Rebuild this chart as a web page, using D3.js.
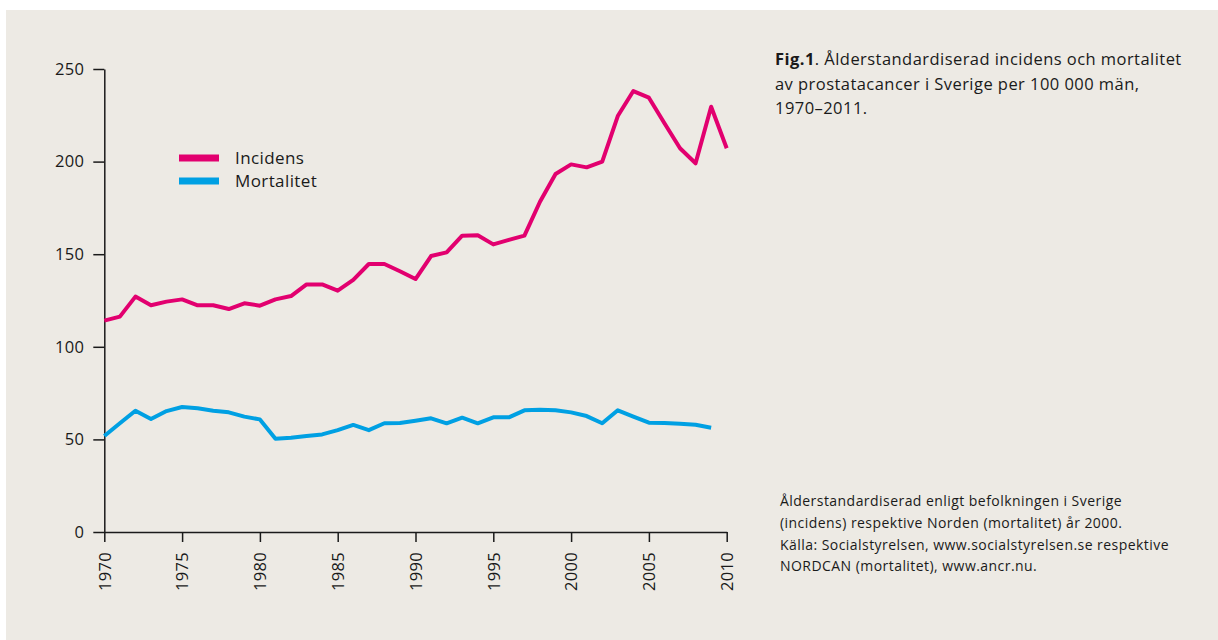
<!DOCTYPE html>
<html>
<head>
<meta charset="utf-8">
<script src="https://cdn.jsdelivr.net/npm/d3@7"></script>
<style>
  body { margin: 0; background: #ffffff; }
  svg text { font-family: "Open Sans", "Noto Sans", sans-serif; fill: #1a1a1a; }
</style>
</head>
<body>
<svg id="chart" width="1218" height="640"></svg>
<script>
// years 1970-2010 (incidens), 1970-2009 (mortalitet)
var years = d3.range(1970, 2011);
var incidens = [114.1, 116.3, 127.1, 122.4, 124.4, 125.6, 122.4, 122.4, 120.4, 123.5,
                122.2, 125.6, 127.4, 133.7, 133.7, 130.3, 136.1, 144.7, 144.7, 140.8,
                136.6, 149, 151, 160, 160.2, 155.3, 157.7, 160, 178.3, 193.3,
                198.5, 196.9, 200, 224.6, 238.1, 234.5, 220.7, 207.2, 199.1, 229.6,
                207.2];
var mortalitet = [51.8, 58.7, 65.5, 61, 65.3, 67.5, 66.8, 65.5, 64.6, 62.3,
                  60.8, 50.4, 50.9, 51.8, 52.7, 55, 57.8, 55, 58.7, 58.9,
                  60.1, 61.4, 58.7, 61.7, 58.7, 61.9, 61.9, 65.7, 66, 65.7,
                  64.6, 62.6, 58.7, 65.7, 62.3, 59, 58.9, 58.5, 57.9, 56.3];
var yTicks = [0, 50, 100, 150, 200, 250];
var xTicks = [1970, 1975, 1980, 1985, 1990, 1995, 2000, 2005, 2010];
var seriesNames = ["Incidens", "Mortalitet"];
var seriesColors = ["#e2006f", "#00a0e3"];

var titleLines = ["av prostatacancer i Sverige per 100 000 män,", "1970–2011."];
var noteLines = ["Ålderstandardiserad enligt befolkningen i Sverige",
                 "(incidens) respektive Norden (mortalitet) år 2000.",
                 "Källa: Socialstyrelsen, www.socialstyrelsen.se respektive",
                 "NORDCAN (mortalitet), www.ancr.nu."];

var svg = d3.select("#chart");

// beige panel
svg.append("rect")
    .attr("x", 6).attr("y", 10)
    .attr("width", 1212).attr("height", 630)
    .attr("fill", "#edeae4");

var x = d3.scaleLinear().domain([1970, 2010]).range([104.3, 726.7]);
var y = d3.scaleLinear().domain([0, 250]).range([532, 69]);

// axes
var yAxis = svg.append("g")
    .attr("transform", "translate(" + x(1970) + ",0)")
    .call(d3.axisLeft(y).tickValues(yTicks).tickSize(11).tickSizeOuter(0).tickPadding(9));
var xAxis = svg.append("g")
    .attr("transform", "translate(0," + y(0) + ")")
    .call(d3.axisBottom(x).tickValues(xTicks).tickFormat(d3.format("d")).tickSize(10).tickSizeOuter(0));

[yAxis, xAxis].forEach(function(ax) {
    ax.select(".domain").attr("stroke", "#1a1a1a").attr("stroke-width", 1.5);
    ax.selectAll(".tick line").attr("stroke", "#1a1a1a").attr("stroke-width", 1.5);
    ax.selectAll("text").attr("fill", "#1a1a1a").style("font-size", "16.5px")
        .style("letter-spacing", "0.3px")
        .style("font-family", "'Open Sans', sans-serif");
});
xAxis.selectAll(".tick text")
    .attr("transform", "rotate(-90)")
    .attr("text-anchor", "end")
    .attr("x", -20)
    .attr("y", 0)
    .attr("dy", "0.35em");

// lines
var lineInc = d3.line()
    .x(function(d, i) { return x(years[i]); })
    .y(function(d) { return y(d); });

svg.append("path")
    .datum(mortalitet)
    .attr("fill", "none")
    .attr("stroke", seriesColors[1])
    .attr("stroke-width", 4)
    .attr("stroke-linejoin", "round")
    .attr("d", lineInc);

svg.append("path")
    .datum(incidens)
    .attr("fill", "none")
    .attr("stroke", seriesColors[0])
    .attr("stroke-width", 4)
    .attr("stroke-linejoin", "round")
    .attr("d", lineInc);

// legend
var legend = svg.append("g").attr("transform", "translate(179,158)");
seriesNames.forEach(function(name, i) {
    legend.append("rect")
        .attr("x", 0).attr("y", i * 23 - 3.5)
        .attr("width", 40).attr("height", 7)
        .attr("fill", seriesColors[i]);
    legend.append("text")
        .attr("x", 56).attr("y", i * 23)
        .attr("dy", "0.35em")
        .style("font-size", "17px")
        .style("letter-spacing", "0.4px")
        .text(name);
});

// title
var title = svg.append("text")
    .attr("x", 775).attr("y", 65)
    .style("font-size", "16.5px")
    .style("letter-spacing", "0.45px");
title.append("tspan").style("font-weight", "bold").text("Fig.1");
title.append("tspan").text(". Ålderstandardiserad incidens och mortalitet");
titleLines.forEach(function(t, i) {
    svg.append("text")
        .attr("x", 775).attr("y", 65 + (i + 1) * 24.5)
        .style("font-size", "16.5px")
        .style("letter-spacing", "0.45px")
        .text(t);
});

// footnote
noteLines.forEach(function(t, i) {
    svg.append("text")
        .attr("x", 780).attr("y", 506 + i * 21.8)
        .style("font-size", "14px")
        .style("letter-spacing", "0.45px")
        .attr("fill", "#2a2a2a")
        .text(t);
});
</script>
</body>
</html>
